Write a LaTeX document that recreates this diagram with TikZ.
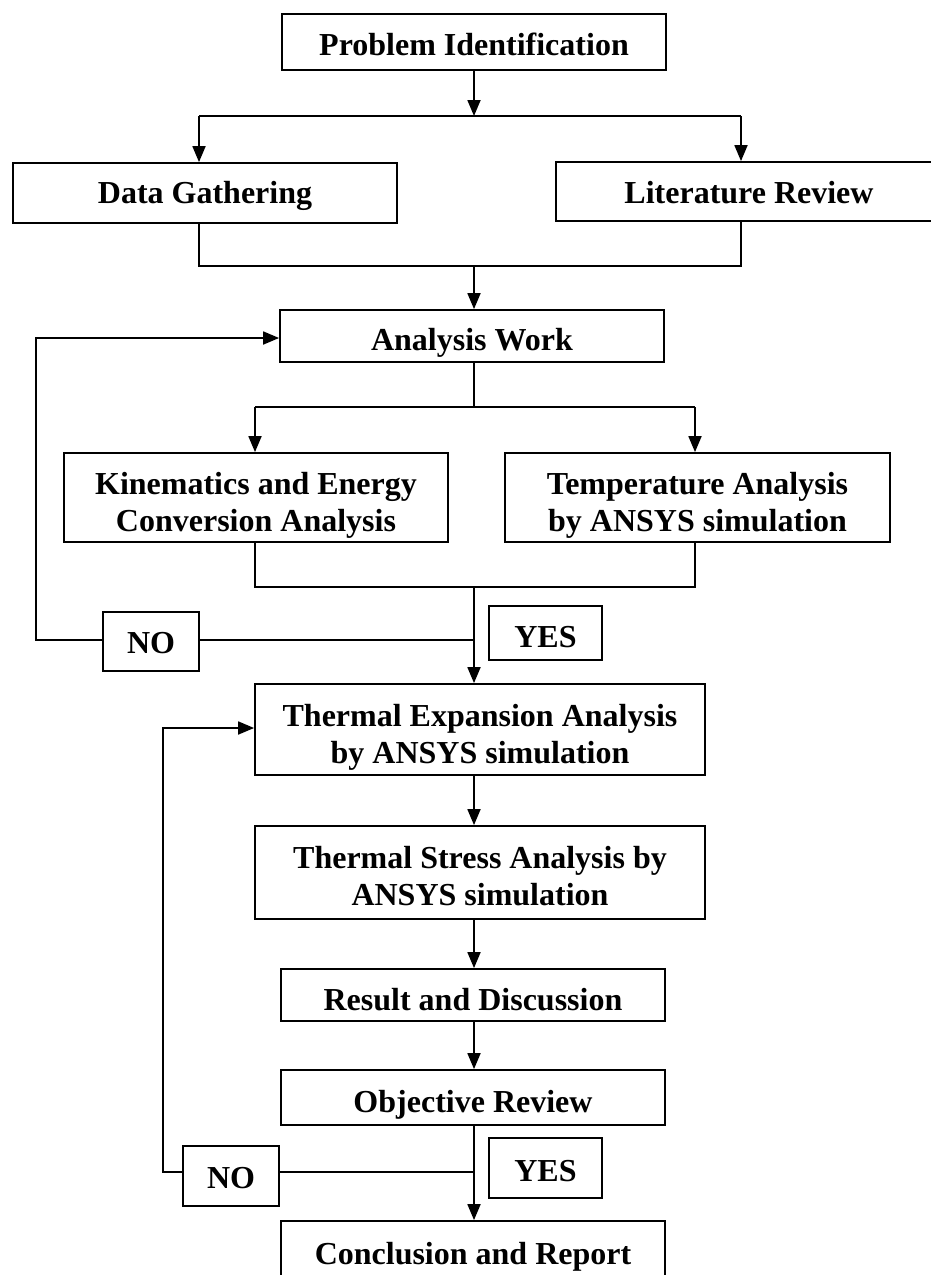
\documentclass[tikz,border=0pt]{standalone}
\usepackage{fontspec}
\setmainfont{Liberation Serif}
\usetikzlibrary{arrows.meta}
\begin{document}
\begin{tikzpicture}[x=1pt,y=1pt,
  box/.style={draw, line width=1.8pt, rectangle, inner sep=0pt},
  txt/.style={inner sep=0pt, align=center, font=\fontsize{32}{37}\selectfont\bfseries},
  ln/.style={line width=1.8pt},
  arr/.style={ln, -{Triangle[length=16pt,width=13pt]}}]
\useasboundingbox (0,0) rectangle (930,-1275);
\fill[white] (0,0) rectangle (930,-1275);
% boxes
\node[box, minimum width=384pt, minimum height=56pt, label={[txt,yshift=-2pt]center:Problem Identification}] (prob) at (474,-42) {};
\node[box, minimum width=384pt, minimum height=60pt, label={[txt,yshift=-3pt]center:Data Gathering}] (data) at (205,-193) {};
\node[box, minimum width=386pt, minimum height=59pt, label={[txt,yshift=-1pt]center:Literature Review}] (lit) at (749,-191.5) {};
\node[box, minimum width=384pt, minimum height=52pt, label={[txt,yshift=-7pt]center:Analysis Work}] (anal) at (472,-336) {};
\node[box, minimum width=384pt, minimum height=89pt, label={[txt,yshift=-8pt]center:{Kinematics and Energy\\Conversion Analysis}}] (kin) at (256,-497.5) {};
\node[box, minimum width=385pt, minimum height=89pt, label={[txt,yshift=-8pt]center:{Temperature Analysis\\by ANSYS simulation}}] (temp) at (697.5,-497.5) {};
\node[box, minimum width=96pt, minimum height=59pt, label={[txt,yshift=-2pt]center:NO}] (no1) at (151,-641.5) {};
\node[box, minimum width=113pt, minimum height=54pt, label={[txt,yshift=-4pt]center:YES}] (yes1) at (545.5,-633) {};
\node[box, minimum width=450pt, minimum height=91pt, label={[txt,yshift=-8pt]center:{Thermal Expansion Analysis\\by ANSYS simulation}}] (texp) at (480,-729.5) {};
\node[box, minimum width=450pt, minimum height=93pt, label={[txt,yshift=-4pt]center:{Thermal Stress Analysis by\\ANSYS simulation}}] (tstr) at (480,-872.5) {};
\node[box, minimum width=384pt, minimum height=52pt, label={[txt,yshift=-5pt]center:Result and Discussion}] (res) at (473,-995) {};
\node[box, minimum width=384pt, minimum height=55pt, label={[txt,yshift=-7pt]center:Objective Review}] (obj) at (473,-1097.5) {};
\node[box, minimum width=96pt, minimum height=60pt, label={[txt,yshift=-2pt]center:NO}] (no2) at (231,-1176) {};
\node[box, minimum width=113pt, minimum height=60pt, label={[txt,yshift=-3pt]center:YES}] (yes2) at (545.5,-1168) {};
\node[box, minimum width=384pt, minimum height=66pt, label={[txt,yshift=-3pt]center:Conclusion and Report}] (conc) at (473,-1254) {};
% junction coordinates
\coordinate (j1) at (474,-116);
\coordinate (jL) at (199,-116);
\coordinate (jR) at (741,-116);
\coordinate (m1) at (474,-266);
\coordinate (s2) at (474,-407);
\coordinate (s2L) at (255,-407);
\coordinate (s2R) at (695,-407);
\coordinate (m2) at (474,-587);
\coordinate (d1) at (474,-640);
\coordinate (f1) at (36,-640);
\coordinate (f1t) at (36,-338);
\coordinate (d2) at (474,-1172);
\coordinate (f2) at (163,-1172);
\coordinate (f2t) at (163,-728);
% connectors
\draw[arr] (prob.south -| j1) -- (j1);
\draw[ln] (jL) -- (jR);
\draw[arr] (jL) -- (jL |- data.north);
\draw[arr] (jR) -- (jR |- lit.north);
\draw[ln] (jL |- data.south) -- (jL |- m1) -- (jR |- m1) -- (jR |- lit.south);
\draw[arr] (m1) -- (m1 |- anal.north);
\draw[ln] (anal.south -| s2) -- (s2);
\draw[ln] (s2L) -- (s2R);
\draw[arr] (s2L) -- (s2L |- kin.north);
\draw[arr] (s2R) -- (s2R |- temp.north);
\draw[ln] (s2L |- kin.south) -- (s2L |- m2) -- (s2R |- m2) -- (s2R |- temp.south);
\draw[arr] (m2) -- (m2 |- texp.north);
\draw[ln] (d1) -- (no1.east |- d1);
\draw[arr] (no1.west |- f1) -- (f1) -- (f1t) -- (anal.west |- f1t);
\draw[arr] (texp.south -| m2) -- (m2 |- tstr.north);
\draw[arr] (tstr.south -| m2) -- (m2 |- res.north);
\draw[arr] (res.south -| m2) -- (m2 |- obj.north);
\draw[arr] (obj.south -| m2) -- (m2 |- conc.north);
\draw[ln] (d2) -- (no2.east |- d2);
\draw[arr] (no2.west |- f2) -- (f2) -- (f2t) -- (texp.west |- f2t);
\end{tikzpicture}
\end{document}
